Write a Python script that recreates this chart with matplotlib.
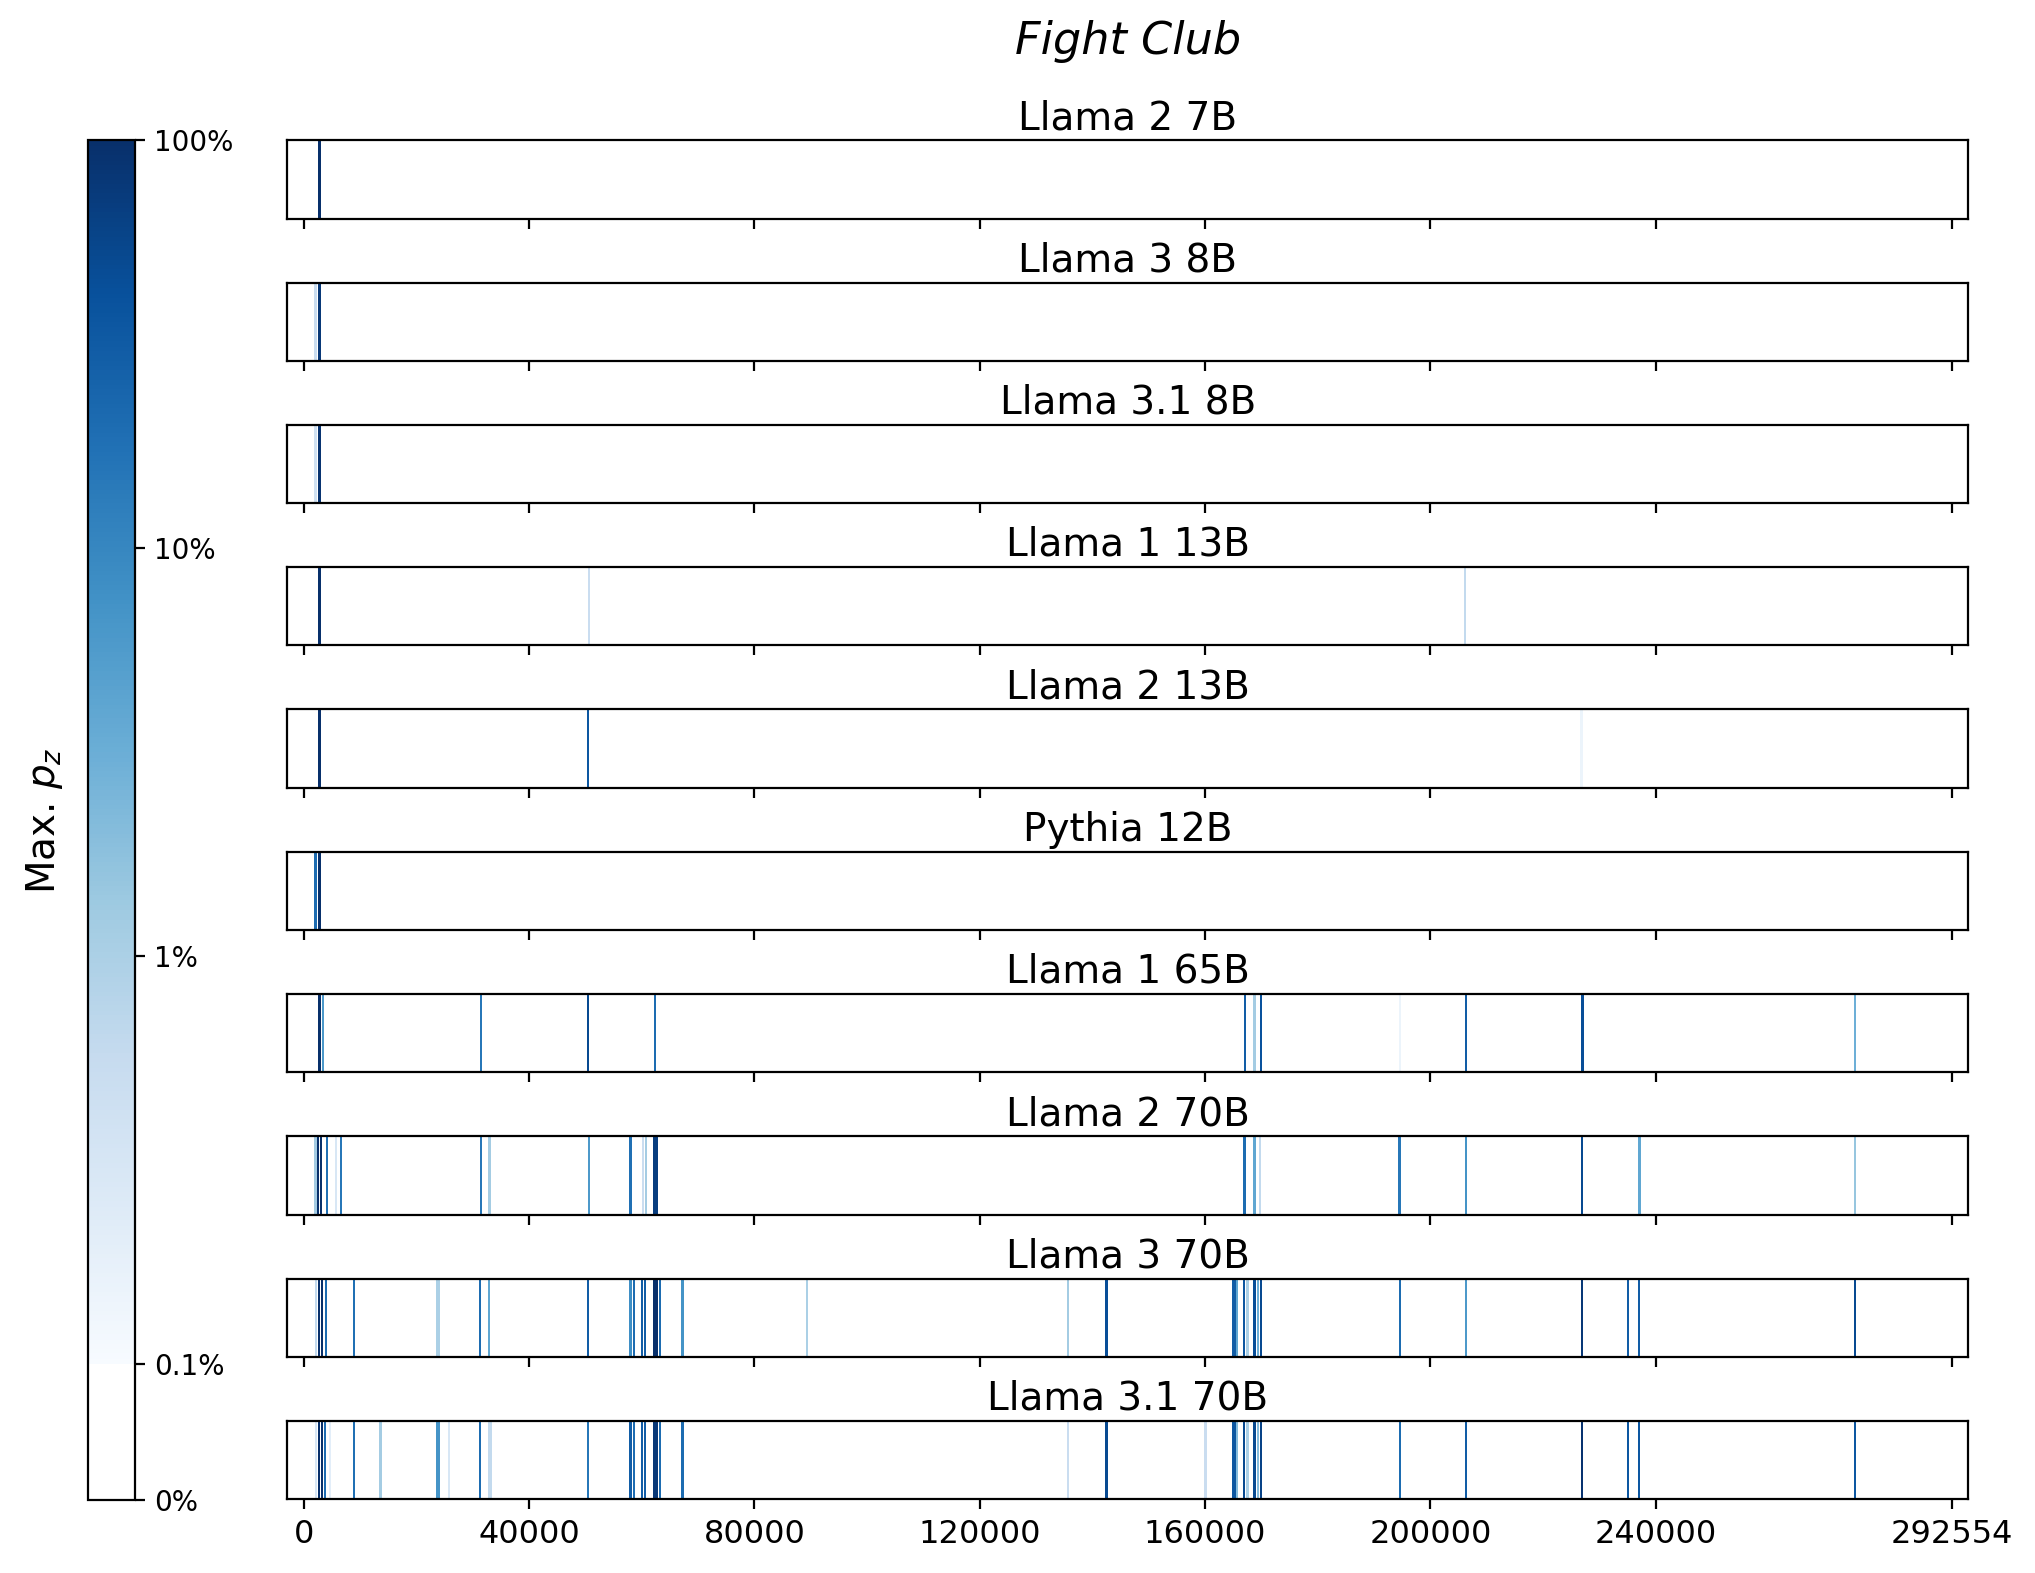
import numpy as np
import matplotlib
matplotlib.use("Agg")
import matplotlib.pyplot as plt
from matplotlib.colors import SymLogNorm, ListedColormap
from matplotlib.cm import ScalarMappable

# ---------------- data ----------------
TITLE = "Fight Club"
N_CHARS = 292554
WIN = 400  # width of one scanned window (characters)

MODELS = ["Llama 2 7B", "Llama 3 8B", "Llama 3.1 8B", "Llama 1 13B", "Llama 2 13B",
          "Pythia 12B", "Llama 1 65B", "Llama 2 70B", "Llama 3 70B", "Llama 3.1 70B"]

LLAMA2_7B_POS = [2800]
LLAMA2_7B_VAL = [1.0]

LLAMA3_8B_POS = [2060, 2800]
LLAMA3_8B_VAL = [0.005, 0.8]

LLAMA31_8B_POS = [2060, 2800]
LLAMA31_8B_VAL = [0.004, 0.9]

LLAMA1_13B_POS = [2800, 50580, 206150]
LLAMA1_13B_VAL = [1.0, 0.005, 0.006]

LLAMA2_13B_POS = [2800, 50500, 226850]
LLAMA2_13B_VAL = [1.0, 0.35, 0.0015]

PYTHIA_12B_POS = [2060, 2800]
PYTHIA_12B_VAL = [0.2, 1.0]

LLAMA1_65B_POS = [2770, 3370, 31430, 50460, 62400, 167080, 168770, 169880,
                  194650, 206330, 227000, 275340]
LLAMA1_65B_VAL = [1.0, 0.06, 0.15, 0.5, 0.2, 0.3, 0.012, 0.4,
                  0.0015, 0.3, 0.45, 0.03]

LLAMA2_70B_POS = [2060, 2500, 3100, 4070, 5670, 6670, 31430, 32970, 50570, 58020,
                  60270, 60800, 62250, 62650, 166990, 168760, 169770, 194540,
                  206260, 226870, 237130, 275340]
LLAMA2_70B_VAL = [0.012, 1.0, 1.0, 0.18, 0.003, 0.15, 0.15, 0.012, 0.06, 0.18,
                  0.005, 0.012, 0.7, 0.7, 0.2, 0.04, 0.006, 0.15,
                  0.07, 0.5, 0.04, 0.015]

LLAMA3_70B_POS = [2110, 2700, 3250, 3930, 8900, 23600, 23900, 31340, 32850, 50490,
                  58000, 58620, 60100, 60600, 62250, 62650, 63240, 67240, 89290,
                  135650, 142510, 164950, 165300, 165700, 166920, 167540, 168760,
                  169440, 169920, 194610, 206260, 226870, 235040, 237060, 275340]
LLAMA3_70B_VAL = [0.006, 1.0, 1.0, 0.2, 0.18, 0.01, 0.01, 0.2, 0.04, 0.3,
                  0.08, 0.2, 0.3, 0.3, 1.0, 1.0, 0.2, 0.07, 0.01,
                  0.012, 0.45, 0.3, 0.3, 0.04, 0.35, 0.01, 0.45,
                  0.03, 0.5, 0.2, 0.06, 0.8, 0.3, 0.3, 0.5]

LLAMA31_70B_POS = [2110, 2700, 3250, 3800, 4680, 8900, 13630, 23600, 23900, 25720,
                   31340, 32900, 33200, 50490, 58000, 58620, 60100, 60600, 62250,
                   62650, 63240, 67240, 135650, 142510, 160080, 164950, 165300,
                   165700, 166920, 167540, 168760, 169440, 169920, 194610, 206260,
                   226870, 235040, 237060, 275340]
LLAMA31_70B_VAL = [0.003, 1.0, 1.0, 0.2, 0.002, 0.18, 0.012, 0.07, 0.07, 0.003,
                   0.2, 0.006, 0.006, 0.15, 0.3, 0.2, 0.3, 0.3, 0.8,
                   0.8, 0.2, 0.2, 0.005, 0.5, 0.005, 0.35, 0.35,
                   0.02, 0.5, 0.01, 0.5, 0.02, 0.6, 0.2, 0.3,
                   0.9, 0.35, 0.35, 0.35]

POSITIONS = [LLAMA2_7B_POS, LLAMA3_8B_POS, LLAMA31_8B_POS, LLAMA1_13B_POS, LLAMA2_13B_POS,
             PYTHIA_12B_POS, LLAMA1_65B_POS, LLAMA2_70B_POS, LLAMA3_70B_POS, LLAMA31_70B_POS]
VALUES = [LLAMA2_7B_VAL, LLAMA3_8B_VAL, LLAMA31_8B_VAL, LLAMA1_13B_VAL, LLAMA2_13B_VAL,
          PYTHIA_12B_VAL, LLAMA1_65B_VAL, LLAMA2_70B_VAL, LLAMA3_70B_VAL, LLAMA31_70B_VAL]

X_TICKS = [0, 40000, 80000, 120000, 160000, 200000, 240000, N_CHARS]
CB_TICKS = [0, 0.001, 0.01, 0.1, 1.0]
CB_TICKLABELS = ["0%", "0.1%", "1%", "10%", "100%"]

# ---------------- style / layout ----------------
W, H, DPI = 2035, 1573, 200
fig = plt.figure(figsize=(W / DPI, H / DPI), dpi=DPI)

norm = SymLogNorm(linthresh=1e-3, linscale=0.3, vmin=0.0, vmax=1.0, base=10)
lin_frac = float(norm(1e-3))
n = 1000
n_white = int(round(lin_frac * n))
blues = plt.get_cmap("Blues")(np.linspace(0, 1, n - n_white))
white = np.ones((n_white, 4))
cmap = ListedColormap(np.vstack([white, blues]))

ax_left, ax_right = 287.3, 1968.2
row_top0, row_pitch, row_h = 140.2, 142.3, 78.3

axes = []
for i, (name, pos, val) in enumerate(zip(MODELS, POSITIONS, VALUES)):
    top = row_top0 + i * row_pitch
    ax = fig.add_axes([ax_left / W, 1 - (top + row_h) / H, (ax_right - ax_left) / W, row_h / H])
    order = np.argsort(val)
    for k in order:
        ax.axvspan(pos[k] - WIN / 2, pos[k] + WIN / 2, color=cmap(norm(val[k])), lw=0)
    ax.set_xlim(-0.01 * N_CHARS, 1.01 * N_CHARS)
    ax.set_ylim(0, 1)
    ax.set_yticks([])
    ax.set_xticks(X_TICKS)
    if i < len(MODELS) - 1:
        ax.set_xticklabels([])
    else:
        ax.set_xticklabels([str(t) for t in X_TICKS], fontsize=11.5)
    ax.set_title(name, fontsize=14, pad=4)
    axes.append(ax)

cax = fig.add_axes([88.3 / W, 1 - 1500.3 / H, (135.0 - 88.3) / W, (1500.3 - 140.2) / H])
sm = ScalarMappable(norm=norm, cmap=cmap)
sm.set_array([])
cb = fig.colorbar(sm, cax=cax, orientation="vertical")
cb.set_ticks(CB_TICKS)
cb.set_ticklabels(CB_TICKLABELS)
cb.ax.tick_params(labelsize=10)
cb.ax.minorticks_off()
cb.ax.yaxis.set_label_position("left")
cb.set_label("Max. $p_z$", fontsize=14, labelpad=8.5)

fig.text((ax_left + ax_right) / 2 / W, 1 - 41.5 / H, TITLE, fontsize=16, style="italic",
         ha="center", va="center")

fig.savefig("out.png", dpi=DPI)
